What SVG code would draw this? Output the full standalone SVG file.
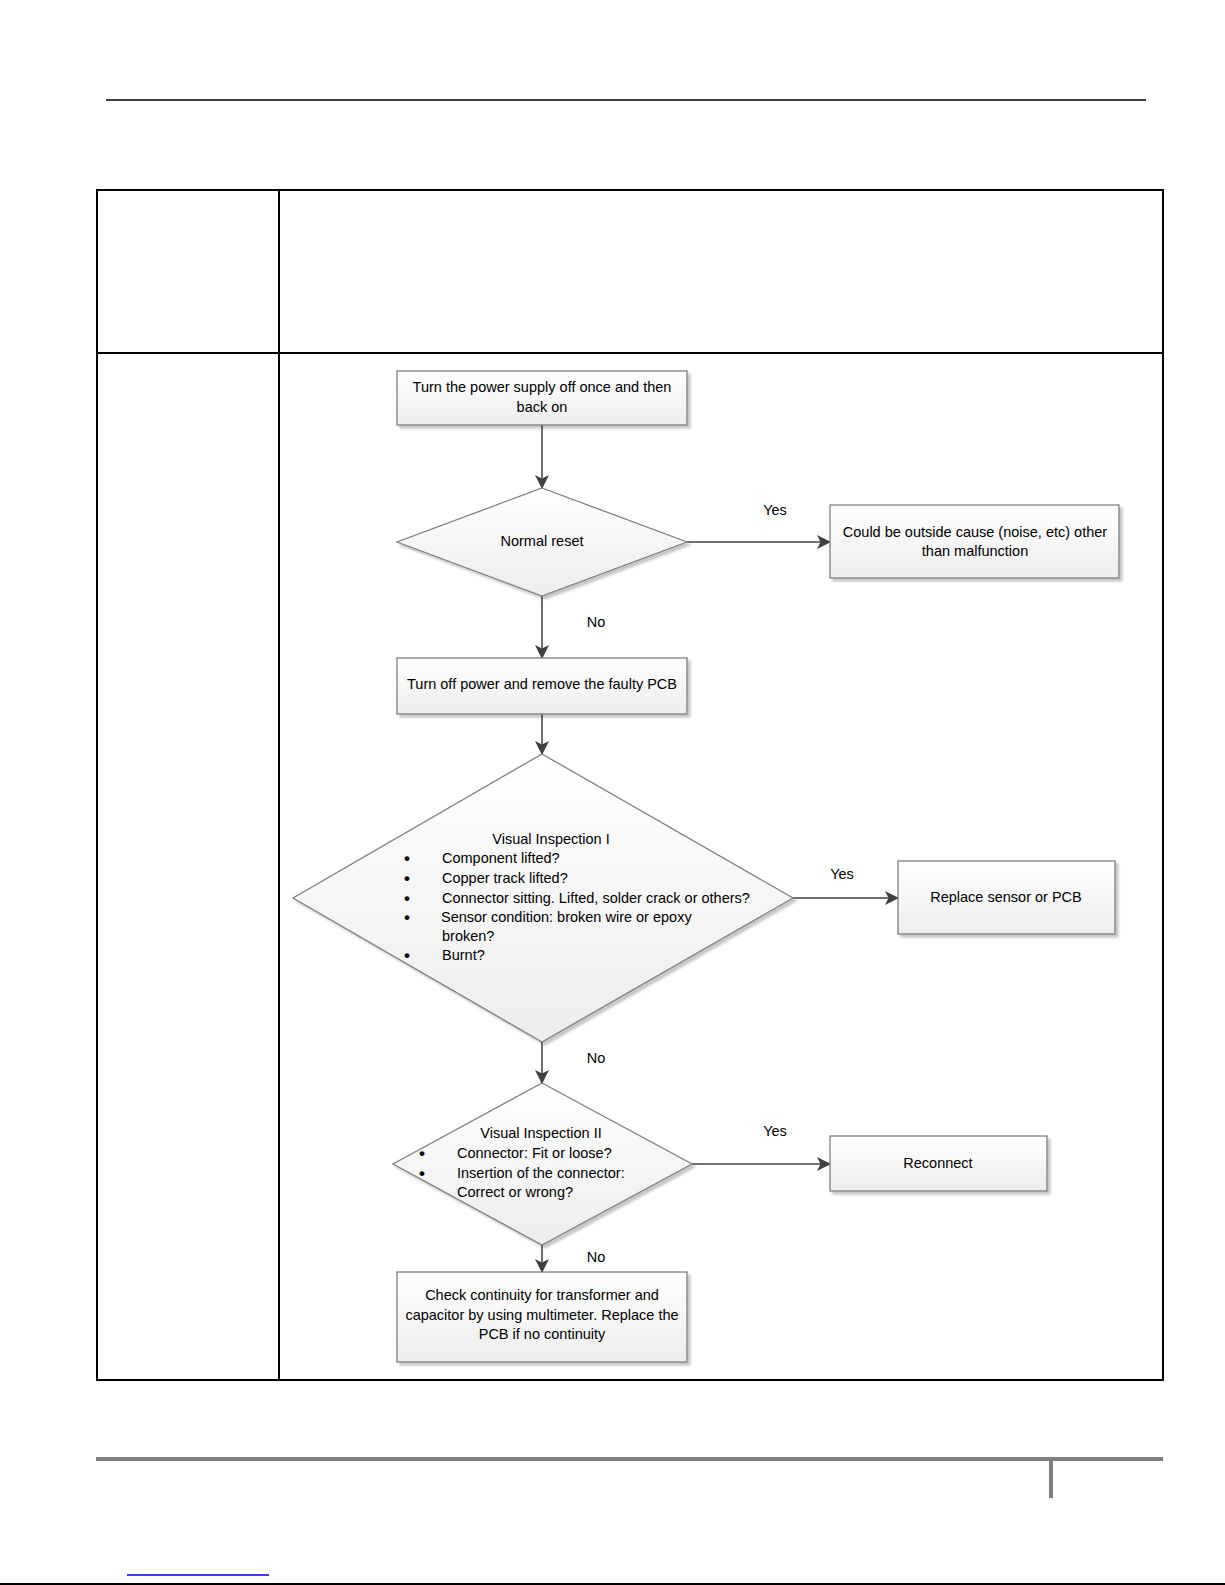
<svg xmlns="http://www.w3.org/2000/svg" width="1225" height="1585" viewBox="0 0 1225 1585">
<defs>
<linearGradient id="g" x1="0" y1="0" x2="0" y2="1">
<stop offset="0" stop-color="#ffffff"/>
<stop offset="1" stop-color="#ededed"/>
</linearGradient>
<filter id="sh" x="-10%" y="-10%" width="130%" height="130%">
<feDropShadow dx="3" dy="3" stdDeviation="1.2" flood-color="#000" flood-opacity="0.22"/>
</filter>
<marker id="ah" viewBox="0 0 14 14" refX="13" refY="7" markerWidth="14" markerHeight="14" markerUnits="userSpaceOnUse" orient="auto">
<path d="M0,0 L14,7 L0,14 L3.5,7 Z" fill="#404040"/>
</marker>
<style>
.shape{fill:url(#g);stroke:#7f7f7f;stroke-width:1.3;filter:url(#sh)}
.t{font-family:"Liberation Sans",Arial,sans-serif;font-size:14.5px;fill:#000}
.c{text-anchor:middle}
.b{font-size:17px;font-weight:bold}
.conn{stroke:#404040;stroke-width:1.5;fill:none;marker-end:url(#ah)}
.frame{stroke:#000;stroke-width:2;fill:none}
</style>
</defs>
<rect width="1225" height="1585" fill="#fff"/>
<g id="page">
<line x1="106" y1="100" x2="1146" y2="100" stroke="#000" stroke-width="1.5"/>
<rect class="frame" x="97" y="190" width="1066" height="1190"/>
<line class="frame" x1="279" y1="190" x2="279" y2="1380"/>
<line class="frame" x1="97" y1="353" x2="1163" y2="353"/>
<line x1="96" y1="1459" x2="1163" y2="1459" stroke="#808080" stroke-width="4"/>
<line x1="1051" y1="1461" x2="1051" y2="1498" stroke="#808080" stroke-width="4"/>
<line x1="127" y1="1575" x2="269" y2="1575" stroke="#0000ee" stroke-width="1.5"/>
<line x1="0" y1="1584" x2="1225" y2="1584" stroke="#000" stroke-width="2"/>
</g>
<g id="connectors">
<line class="conn" x1="542" y1="425" x2="542" y2="488"/>
<line class="conn" x1="687" y1="542" x2="830" y2="542"/>
<line class="conn" x1="542" y1="596" x2="542" y2="658"/>
<line class="conn" x1="542" y1="714" x2="542" y2="754"/>
<line class="conn" x1="793" y1="898" x2="898" y2="898"/>
<line class="conn" x1="542" y1="1042" x2="542" y2="1083"/>
<line class="conn" x1="692" y1="1164" x2="830" y2="1164"/>
<line class="conn" x1="542" y1="1245" x2="542" y2="1272"/>
<text class="t c" x="775" y="515">Yes</text>
<text class="t c" x="596" y="627">No</text>
<text class="t c" x="842" y="879">Yes</text>
<text class="t c" x="596" y="1063">No</text>
<text class="t c" x="775" y="1136">Yes</text>
<text class="t c" x="596" y="1262">No</text>
</g>
<g id="n1">
<rect class="shape" x="397" y="371" width="290" height="54"/>
<text class="t c" x="542" y="392">Turn the power supply off once and then</text>
<text class="t c" x="542" y="412">back on</text>
</g>
<g id="n2">
<polygon class="shape" points="542,488 687,542 542,596 397,542"/>
<text class="t c" x="542" y="546">Normal reset</text>
</g>
<g id="n3">
<rect class="shape" x="830" y="505" width="289" height="73"/>
<text class="t c" x="975" y="537">Could be outside cause (noise, etc) other</text>
<text class="t c" x="975" y="556">than malfunction</text>
</g>
<g id="n4">
<rect class="shape" x="397" y="658" width="290" height="56"/>
<text class="t c" x="542" y="689">Turn off power and remove the faulty PCB</text>
</g>
<g id="n5">
<polygon class="shape" points="542,754 793,898 542,1042 293,898"/>
<text class="t c" x="551" y="844">Visual Inspection I</text>
<g class="t">
<text class="b" x="404" y="864">•</text><text x="442" y="863">Component lifted?</text>
<text class="b" x="404" y="884">•</text><text x="442" y="883">Copper track lifted?</text>
<text class="b" x="404" y="904">•</text><text x="442" y="903">Connector sitting. Lifted, solder crack or others?</text>
<text class="b" x="404" y="923">•</text><text x="441" y="922">Sensor condition: broken wire or epoxy</text>
<text x="442" y="941">broken?</text>
<text class="b" x="404" y="961">•</text><text x="442" y="960">Burnt?</text>
</g>
</g>
<g id="n6">
<rect class="shape" x="898" y="861" width="217" height="73"/>
<text class="t c" x="1006" y="902">Replace sensor or PCB</text>
</g>
<g id="n7">
<polygon class="shape" points="542,1083 692,1164 542,1245 393,1164"/>
<text class="t c" x="541" y="1138">Visual Inspection II</text>
<g class="t">
<text class="b" x="419" y="1159">•</text><text x="457" y="1158">Connector: Fit or loose?</text>
<text class="b" x="419" y="1179">•</text><text x="457" y="1178">Insertion of the connector:</text>
<text x="457" y="1197">Correct or wrong?</text>
</g>
</g>
<g id="n8">
<rect class="shape" x="830" y="1136" width="217" height="55"/>
<text class="t c" x="938" y="1168">Reconnect</text>
</g>
<g id="n9">
<rect class="shape" x="397" y="1272" width="290" height="90"/>
<text class="t c" x="542" y="1300">Check continuity for transformer and</text>
<text class="t c" x="542" y="1320">capacitor by using multimeter. Replace the</text>
<text class="t c" x="542" y="1339">PCB if no continuity</text>
</g>
</svg>
